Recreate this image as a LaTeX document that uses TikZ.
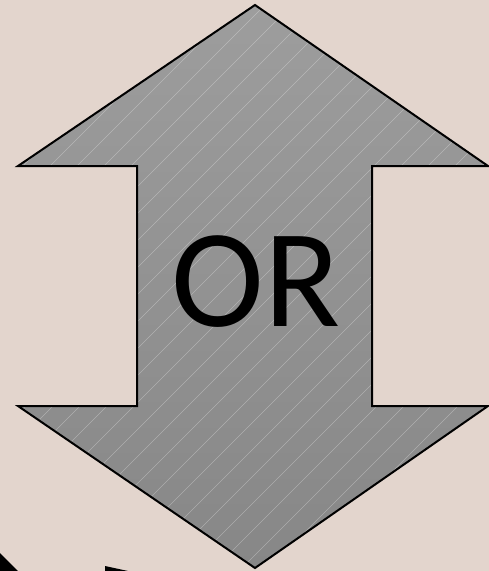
\documentclass[tikz,border=0pt]{standalone}
\usepackage{fontspec}
\setmainfont{Carlito}
\definecolor{bgc}{HTML}{E3D5CD}
\definecolor{gtop}{HTML}{9D9D9D}
\definecolor{gbot}{HTML}{878787}
\begin{document}
\begin{tikzpicture}[x=1pt,y=-1pt,
  arrowshape/.style={draw=black,line width=2pt,line join=miter},
  hatch/.style={white,opacity=0.3,line width=0.6pt},
  label/.style={font=\fontsize{140}{140}\selectfont,text=black,inner sep=0pt}]
\fill[bgc] (0,0) rectangle (489,571);
\useasboundingbox (0,0) rectangle (489,571);
\path[top color=gtop,bottom color=gbot]
  (255,5) -- (488,166) -- (372,166) -- (372,406) -- (488,406) -- (255,568)
  -- (18,406) -- (137,406) -- (137,166) -- (18,166) -- cycle;
\begin{scope}
\clip (255,5) -- (488,166) -- (372,166) -- (372,406) -- (488,406) -- (255,568)
  -- (18,406) -- (137,406) -- (137,166) -- (18,166) -- cycle;
\foreach \c in {0,27,...,1100} {\draw[hatch] (\c,0) -- (\c-600,600);}
\end{scope}
\draw[arrowshape]
  (255,5) -- (488,166) -- (372,166) -- (372,406) -- (488,406) -- (255,568)
  -- (18,406) -- (137,406) -- (137,166) -- (18,166) -- cycle;
\node[label] (or) at (256,282) {OR};
\fill[black] (0,553) -- (18,571) -- (0,571) -- cycle;
\fill[black] (105,566) -- (128,571) -- (105,571) -- cycle;
\end{tikzpicture}
\end{document}
